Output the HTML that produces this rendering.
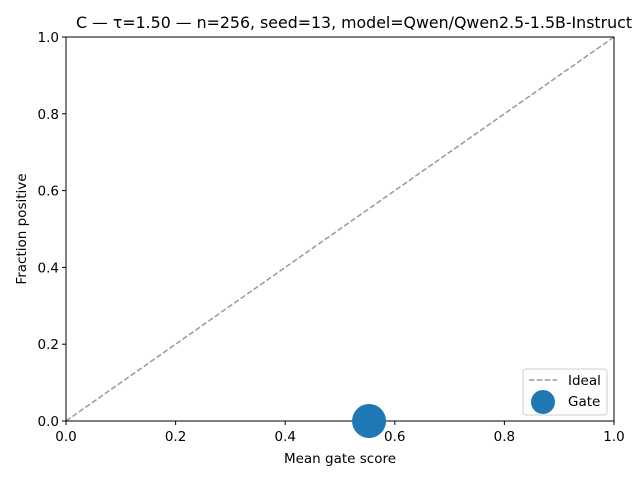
<!DOCTYPE html>
<html><head><meta charset="utf-8"><style>body{margin:0;background:#fff}svg{display:block;font-family:"DejaVu Sans","Liberation Sans",sans-serif}</style></head>
<body>
<svg id="chart" width="640" height="480"></svg>
<script>
const xTicks=[0,0.2,0.4,0.6,0.8,1.0];
const yTicks=[0,0.2,0.4,0.6,0.8,1.0];
const tickLabels=["0.0","0.2","0.4","0.6","0.8","1.0"];
const pointX=[0.553];
const pointY=[0.0];
const idealX=[0,1];
const idealY=[0,1];
const L=66,R=614,T=37,B=421;
const sx=v=>L+v*(R-L), sy=v=>B-v*(B-T);
const NS="http://www.w3.org/2000/svg";
const svg=document.getElementById('chart');
function mk(t,a,p){const e=document.createElementNS(NS,t);for(const k in a)e.setAttribute(k,a[k]);(p||svg).appendChild(e);return e;}
let e;
e=mk('polyline',{points:idealX.map((x,i)=>sx(x)+','+sy(idealY[i])).join(' '),fill:'none',stroke:'#999','stroke-width':1.5,'stroke-dasharray':'5.5,2.4'});


e=mk('rect',{x:L,y:T,width:R-L,height:B-T,fill:'none',stroke:'#000','stroke-width':1});


const g=mk('g',{});


pointX.forEach((x,i)=>{const c=mk('circle',{cx:sx(x),cy:sy(pointY[i]),r:17,fill:'#1f77b4'},g);

});
xTicks.forEach((v,i)=>{mk('line',{x1:sx(v),x2:sx(v),y1:B,y2:B+4,stroke:'#000'});
const t=mk('text',{x:sx(v),y:B+20,'font-size':13.5,'text-anchor':'middle'});t.textContent=tickLabels[i];

});
yTicks.forEach((v,i)=>{mk('line',{x1:L-4,x2:L,y1:sy(v),y2:sy(v),stroke:'#000'});
const t=mk('text',{x:L-7,y:sy(v)+5,'font-size':13.5,'text-anchor':'end'});t.textContent=tickLabels[i];

});
</script>
<svg width="640" height="480" style="position:absolute;left:0;top:0;font-family:'DejaVu Sans','Liberation Sans',sans-serif">
<text x="354" y="28" font-size="15.8" text-anchor="middle">C — τ=1.50 — n=256, seed=13, model=Qwen/Qwen2.5-1.5B-Instruct</text>
<text x="340" y="463" font-size="13.5" text-anchor="middle">Mean gate score</text>
<text transform="translate(26,229) rotate(-90)" font-size="13.5" text-anchor="middle">Fraction positive</text>
<g>
<rect x="523" y="369" width="84" height="46" rx="3" fill="#fff" fill-opacity="0.8" stroke="#ccc"/>
<line x1="529" y1="380" x2="557" y2="380" stroke="#999" stroke-width="1.5" stroke-dasharray="5.5,2.4"/>
<text x="568" y="385" font-size="13.5">Ideal</text>
<circle cx="543" cy="402" r="12" fill="#1f77b4"/>
<text x="568" y="406" font-size="13.5">Gate</text>
</g>
</svg>
</body></html>
